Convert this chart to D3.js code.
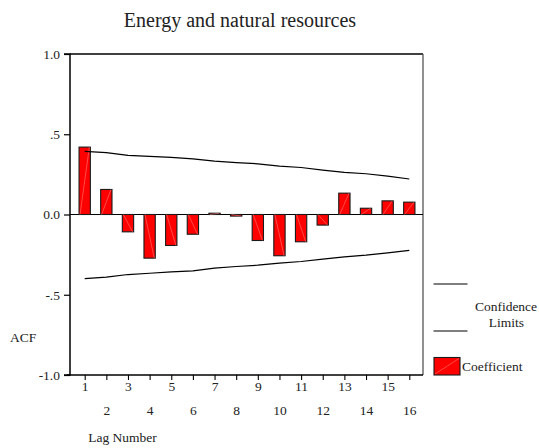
<!DOCTYPE html>
<html>
<head>
<meta charset="utf-8">
<script src="https://cdn.jsdelivr.net/npm/d3@7"></script>
<style>
  html, body { margin: 0; padding: 0; background: #fff; }
  svg text { font-family: 'Liberation Serif', 'Times New Roman', serif !important; fill: #222; }
</style>
</head>
<body>
<svg id="chart" width="539" height="448" font-family="Liberation Serif, serif"></svg>
<script>
const lags = [1, 2, 3, 4, 5, 6, 7, 8, 9, 10, 11, 12, 13, 14, 15, 16];
const acf = [0.42, 0.156, -0.108, -0.272, -0.193, -0.123, 0.008, -0.01, -0.162, -0.257, -0.17, -0.066, 0.133, 0.039, 0.085, 0.077];
const upperLimit = [0.393, 0.385, 0.368, 0.362, 0.356, 0.347, 0.332, 0.323, 0.316, 0.301, 0.293, 0.277, 0.262, 0.254, 0.239, 0.221];
const lowerLimit = [-0.399, -0.39, -0.374, -0.366, -0.357, -0.351, -0.334, -0.324, -0.316, -0.303, -0.293, -0.278, -0.264, -0.253, -0.239, -0.224];
const yTicks = [1.0, 0.5, 0.0, -0.5, -1.0];
const yTickLabels = ["1.0", ".5", "0.0", "-.5", "-1.0"];
const title = "Energy and natural resources";

const svg = d3.select("#chart");
const pLeft = 70, pRight = 423, pTop = 54, pBottom = 375;

const x = d3.scalePoint().domain(lags).range([84.7, 409.3]);
const y = d3.scaleLinear().domain([-1, 1]).range([pBottom, pTop]);
const barW = 11.3;

// title
svg.append("text").attr("x", 240).attr("y", 27).attr("text-anchor", "middle")
  .style("font-size", "20px").text(title);

// frame: top and right
svg.append("line").attr("x1", pLeft).attr("x2", pRight).attr("y1", pTop).attr("y2", pTop)
  .attr("stroke", "#000").attr("stroke-width", 1.3);
svg.append("line").attr("x1", pRight).attr("x2", pRight).attr("y1", pTop).attr("y2", pBottom)
  .attr("stroke", "#555").attr("stroke-width", 1.3);

// zero line
svg.append("line").attr("x1", pLeft).attr("x2", pRight).attr("y1", y(0)).attr("y2", y(0))
  .attr("stroke", "#000").attr("stroke-width", 1.2);

// bars
const bars = svg.append("g");
lags.forEach((l, i) => {
  const v = acf[i];
  const x0 = x(l) - barW / 2;
  const y0 = Math.min(y(0), y(v));
  const h = Math.max(Math.abs(y(v) - y(0)), 1.2);
  bars.append("rect").attr("x", x0).attr("y", y0).attr("width", barW).attr("height", h)
    .attr("fill", "#ff0000").attr("stroke", "#1a1a1a").attr("stroke-width", 1.1);
  bars.append("line").attr("x1", x0 + 1).attr("y1", y(0)).attr("x2", x0 + barW - 1).attr("y2", y(v))
    .attr("stroke", "#ff9090").attr("stroke-width", 0.5);
});

// confidence limits
const line = d3.line().x((d, i) => x(lags[i])).y(d => y(d));
svg.append("path").datum(upperLimit).attr("d", line).attr("fill", "none")
  .attr("stroke", "#000").attr("stroke-width", 1.2);
svg.append("path").datum(lowerLimit).attr("d", line).attr("fill", "none")
  .attr("stroke", "#000").attr("stroke-width", 1.2);

// y axis
const yAxis = d3.axisLeft(y).tickValues(yTicks).tickSize(6)
  .tickFormat((d, i) => yTickLabels[i]);
const gy = svg.append("g").attr("transform", `translate(${pLeft},0)`).call(yAxis);
gy.attr("font-family", "Liberation Serif, serif").attr("font-size", 13.5);
gy.select(".domain").attr("stroke", "#000").attr("stroke-width", 1.5).attr("d", `M-6,${pTop}H0V${pBottom}H-6`);
gy.selectAll(".tick line").attr("stroke", "#000").attr("stroke-width", 1.2);
gy.selectAll(".tick text").attr("fill", "#222").attr("x", -10);

// x axis
const xAxis = d3.axisBottom(x).tickSize(5).tickFormat(d => d);
const gx = svg.append("g").attr("transform", `translate(0,${pBottom})`).call(xAxis);
gx.attr("font-family", "Liberation Serif, serif").attr("font-size", 13.5);
gx.select(".domain").attr("stroke", "#000").attr("stroke-width", 1.5).attr("d", `M${pLeft - 3},0H${pRight}`);
gx.selectAll(".tick line").attr("stroke", "#000").attr("stroke-width", 1.1);
gx.selectAll(".tick text").attr("fill", "#222")
  .attr("dy", null)
  .attr("y", d => (d % 2 === 1 ? 15.5 : 40));

svg.append("text").attr("x", 122.5).attr("y", 441.5).attr("text-anchor", "middle")
  .style("font-size", "13.5px").text("Lag Number");
svg.append("text").attr("x", 10).attr("y", 341.5)
  .style("font-size", "13.5px").text("ACF");

// legend
const lg = svg.append("g");
lg.append("line").attr("x1", 433.5).attr("x2", 467.5).attr("y1", 284).attr("y2", 284)
  .attr("stroke", "#000").attr("stroke-width", 1.2);
lg.append("line").attr("x1", 433.5).attr("x2", 467.5).attr("y1", 331).attr("y2", 331)
  .attr("stroke", "#000").attr("stroke-width", 1.2);
lg.append("text").attr("x", 506).attr("y", 311).attr("text-anchor", "middle")
  .style("font-size", "13.5px").text("Confidence");
lg.append("text").attr("x", 506.5).attr("y", 326.5).attr("text-anchor", "middle")
  .style("font-size", "13.5px").text("Limits");
lg.append("rect").attr("x", 434).attr("y", 357.5).attr("width", 26).attr("height", 17.5)
  .attr("fill", "#ff0000").attr("stroke", "#1a1a1a").attr("stroke-width", 1.1);
lg.append("line").attr("x1", 435).attr("y1", 374).attr("x2", 459).attr("y2", 358.5)
  .attr("stroke", "#ff9090").attr("stroke-width", 0.5);
lg.append("text").attr("x", 462).attr("y", 371)
  .style("font-size", "13.5px").text("Coefficient");
</script>
</body>
</html>
